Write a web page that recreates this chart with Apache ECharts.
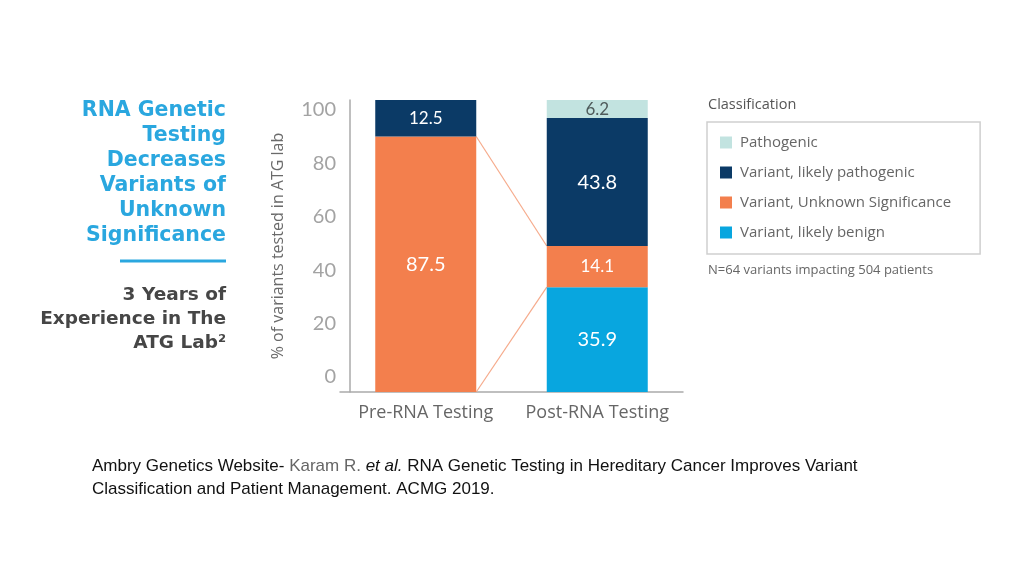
<!DOCTYPE html>
<html>
<head>
<meta charset="utf-8">
<script src="https://cdn.jsdelivr.net/npm/echarts@6/dist/echarts.min.js"></script>
<style>html,body{margin:0;padding:0;background:#fff;}#c{width:1024px;height:576px;}</style>
</head>
<body>
<div id="c"></div>
<script>
var categories = ['Pre-RNA Testing', 'Post-RNA Testing'];
var likelyBenign = [0, 35.9];
var unknownSig = [87.5, 14.1];
var likelyPathogenic = [12.5, 43.8];
var pathogenic = [0, 6.2];
var yTickLabels = [0, 20, 40, 60, 80, 100];
var seriesNames = ['Pathogenic', 'Variant, likely pathogenic', 'Variant, Unknown Significance', 'Variant, likely benign'];

var C_PATH = '#c2e3e0', C_LP = '#0b3a66', C_VUS = '#f37f4d', C_LB = '#08a6df';
var BAR_W = 101;

function barLabel(color) {
  return {
    show: true, position: 'inside', color: color, fontFamily: 'Lato', fontSize: 20,
    formatter: function (p) { return p.value ? String(p.value) : ''; }
  };
}
function mkBar(name, data, color, labelColor) {
  return {
    name: name, type: 'bar', stack: 'all', barWidth: BAR_W, xAxisIndex: 0, yAxisIndex: 0,
    itemStyle: { color: color }, data: data.map(function (v) {
      return { value: v, label: { fontSize: v < 15 ? 17 : 20 } };
    }),
    label: barLabel(labelColor)
  };
}

var chart = echarts.init(document.getElementById('c'));
chart.setOption({
  backgroundColor: '#fff',
  animation: false,
  textStyle: { fontFamily: 'Lato' },
  title: [{
    left: 87, top: 450,
    text: '{a|Ambry Genetics Website- }{b|Karam R. }{c|et al.}{a| RNA Genetic Testing in Hereditary Cancer Improves Variant}\n{a|Classification and Patient Management. ACMG 2019.}',
    textStyle: {
      fontWeight: 'normal',
      rich: {
        a: { fontFamily: 'Liberation Sans', fontSize: 17, fontWeight: 'normal', color: '#111', lineHeight: 23 },
        b: { fontFamily: 'Liberation Sans', fontSize: 17, fontWeight: 'normal', color: '#666', lineHeight: 23 },
        c: { fontFamily: 'Liberation Sans', fontSize: 17, fontWeight: 'normal', color: '#111', fontStyle: 'italic', lineHeight: 23 }
      }
    }
  }],
  graphic: [
    { type: 'text', style: { x: 226, y: 98, text: 'RNA Genetic\nTesting\nDecreases\nVariants of\nUnknown\nSignificance', textAlign: 'right', fill: '#2aa7df', font: 'bold 20.5px "DejaVu Sans"', lineHeight: 25 } },
    { type: 'line', shape: { x1: 120, y1: 261, x2: 226, y2: 261 }, style: { stroke: '#2aa7df', lineWidth: 3 } },
    { type: 'text', style: { x: 226, y: 283, text: '3 Years of\nExperience in The\nATG Lab²', textAlign: 'right', fill: '#464646', font: 'bold 18.5px "DejaVu Sans"', lineHeight: 24 } },
    { type: 'text', style: { x: 708, y: 97, text: 'Classification', fill: '#555', font: '14.5px "Open Sans"' } },
    { type: 'text', style: { x: 708, y: 264, text: 'N=64 variants impacting 504 patients', fill: '#666', font: '13px "Open Sans"' } }
  ],
  legend: {
    data: seriesNames, orient: 'vertical', left: 707, top: 122,
    itemWidth: 12, itemHeight: 12, itemGap: 15, icon: 'rect',
    padding: [13, 29, 14, 13], borderColor: '#cfcfcf', borderWidth: 1.5,
    textStyle: { fontFamily: 'Open Sans', fontSize: 15, color: '#666', padding: [0, 0, 0, 3] },
    selectedMode: false
  },
  grid: { left: 340, right: 341, top: 100, bottom: 184 },
  xAxis: [{
    type: 'category', data: categories,
    axisLine: { lineStyle: { color: '#aaa', width: 1.5 } },
    axisTick: { show: false },
    axisLabel: { color: '#666', fontSize: 18, fontFamily: 'Open Sans', margin: 12, interval: 0, hideOverlap: false }
  }],
  yAxis: [{
    type: 'value', min: 0, max: 100, show: false
  }, {
    type: 'value', position: 'left', min: -5.62, max: 103.74, offset: -10,
    name: '% of variants tested in ATG lab', nameLocation: 'middle', nameGap: 64,
    nameTextStyle: { color: '#6a6a6a', fontSize: 16, fontFamily: 'Open Sans' },
    axisLine: { show: true, lineStyle: { color: '#aaa', width: 1.5 } },
    axisTick: { show: false }, splitLine: { show: false },
    axisLabel: { customValues: yTickLabels, color: '#a3a3a3', fontSize: 20, fontFamily: 'Lato', margin: 14 }
  }],
  series: [
    mkBar(seriesNames[3], likelyBenign, C_LB, '#fff'),
    mkBar(seriesNames[2], unknownSig, C_VUS, '#fff'),
    mkBar(seriesNames[1], likelyPathogenic, C_LP, '#fff'),
    mkBar(seriesNames[0], pathogenic, C_PATH, '#4f5b5b'),
    {
      type: 'custom', xAxisIndex: 0, yAxisIndex: 0, silent: true, z: 1,
      data: [[0]],
      renderItem: function (params, api) {
        var preTop = likelyBenign[0] + unknownSig[0];
        var postTop = likelyBenign[1] + unknownSig[1];
        var a1 = api.coord([0, preTop]), b1 = api.coord([1, postTop]);
        var a2 = api.coord([0, likelyBenign[0]]), b2 = api.coord([1, likelyBenign[1]]);
        var h = BAR_W / 2;
        var st = { stroke: '#f6ab8c', lineWidth: 1.2 };
        return { type: 'group', children: [
          { type: 'line', shape: { x1: a1[0] + h, y1: a1[1], x2: b1[0] - h, y2: b1[1] }, style: st },
          { type: 'line', shape: { x1: a2[0] + h, y1: a2[1], x2: b2[0] - h, y2: b2[1] }, style: st }
        ] };
      }
    }
  ]
});
</script>
</body>
</html>
